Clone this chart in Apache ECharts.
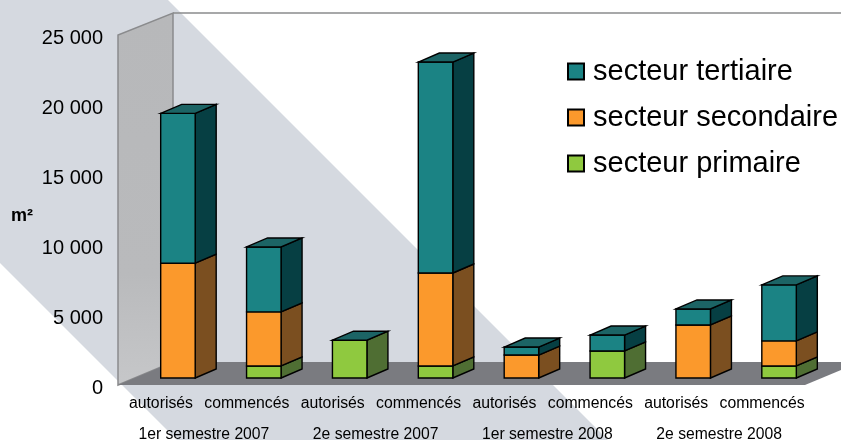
<!DOCTYPE html>
<html><head><meta charset="utf-8">
<style>html,body{margin:0;padding:0;background:#fff}#c{width:841px;height:440px}</style>
<script src="https://cdn.jsdelivr.net/npm/echarts@6/dist/echarts.min.js"></script>
</head><body><div id="c"></div>
<script>
var statuts = ['autorisés','commencés','autorisés','commencés','autorisés','commencés','autorisés','commencés'];
var semestres = ['1er semestre 2007','2e semestre 2007','1er semestre 2008','2e semestre 2008'];
var primaire   = [0, 860, 2700, 860, 0, 1930, 0, 860];
var secondaire = [8200, 3860, 0, 6640, 1640, 0, 3790, 1790];
var tertiaire  = [10700, 4640, 0, 15070, 570, 1140, 1140, 4000];
var yTicks = [0, 5000, 10000, 15000, 20000, 25000];

var stack = [primaire, secondaire, tertiaire];
var palette = [
  {front:'#8fc93f', side:'#4f6e33'},
  {front:'#fb992c', side:'#7b4f20'},
  {front:'#1b8384', side:'#063f43'}
];
var TOP_FILL = '#1c6465';
var names = ['secteur primaire','secteur secondaire','secteur tertiaire'];
var DX = 21, DY = -9, SHIFT_X = 17, SHIFT_Y = -7, BAR = 34.5;
var EDGE = {stroke:'#000', lineWidth:1.4, lineJoin:'miter'};

function makeRender(level){
  return function(params, api){
    var i = api.value(0), base = 0, k;
    for (k = 0; k < level; k++) base += stack[k][i];
    var val = stack[level][i];
    if (!val) return null;
    var isTop = true;
    for (k = level + 1; k < stack.length; k++) if (stack[k][i]) isTop = false;
    var p0 = api.coord([i, base]), p1 = api.coord([i, base + val]);
    var x0 = p0[0] + SHIFT_X - BAR/2, x1 = x0 + BAR;
    var yb = p0[1] + SHIFT_Y, yt = p1[1] + SHIFT_Y;
    var c = palette[level];
    var kids = [
      {type:'polygon', shape:{points:[[x1,yb],[x1+DX,yb+DY],[x1+DX,yt+DY],[x1,yt]]}, style:Object.assign({fill:c.side},EDGE)},
      {type:'rect', shape:{x:x0,y:yt,width:BAR,height:yb-yt}, style:Object.assign({fill:c.front},EDGE)}
    ];
    if (isTop) kids.push({type:'polygon', shape:{points:[[x0,yt],[x0+DX,yt+DY],[x1+DX,yt+DY],[x1,yt]]}, style:Object.assign({fill:TOP_FILL},EDGE)});
    return {type:'group', children:kids};
  };
}
var series = names.map(function(n, level){
  return {
    name:n, type:'custom', xAxisIndex:0, yAxisIndex:0, clip:false,
    renderItem:makeRender(level),
    itemStyle:{color:palette[level].front, borderColor:'#000', borderWidth:1.6},
    encode:{x:0,y:1},
    data:stack[level].map(function(v,i){
      var s = 0; for (var k=0;k<=level;k++) s += stack[k][i];
      return [i, s];
    }),
    silent:true, animation:false
  };
});
var chart = echarts.init(document.getElementById('c'), null, {renderer:'canvas'});
chart.setOption({
  animation:false,
  backgroundColor:'#fff',
  textStyle:{fontFamily:'"Liberation Sans", Arial, sans-serif'},
  grid:{left:118, top:35, width:687, height:350, containLabel:false, outerBoundsMode:'none'},
  legend:{
    orient:'vertical', left:567, top:57, padding:0, itemWidth:16, itemHeight:16, itemGap:17,
    icon:'rect', selectedMode:false,
    data:[names[2],names[1],names[0]],
    textStyle:{fontSize:29, color:'#000', fontFamily:'"Liberation Sans", Arial, sans-serif', padding:[0,0,0,4]}
  },
  xAxis:[
    {type:'category', position:'bottom', data:statuts,
     axisLine:{show:false}, axisTick:{show:false},
     axisLabel:{fontSize:15.8, color:'#000', margin:11, interval:0}},
    {type:'category', position:'bottom', offset:31, data:semestres,
     axisLine:{show:false}, axisTick:{show:false},
     axisLabel:{fontSize:15.7, color:'#000', margin:11, interval:0}}
  ],
  yAxis:{
    type:'value', min:0, max:25000, interval:5000,
    name:'m²', nameLocation:'middle', nameRotate:0, nameGap:85,
    nameTextStyle:{fontSize:18, fontWeight:'bold', color:'#000', verticalAlign:'top', lineHeight:12},
    axisLine:{show:false}, axisTick:{show:false}, splitLine:{show:false},
    axisLabel:{fontSize:20, color:'#000', margin:15, verticalAlign:'top', lineHeight:6, formatter:function(v){
      return String(yTicks[yTicks.indexOf(v)]).replace(/\B(?=(\d{3})+$)/g,' ');
    }}
  },
  graphic:[
    {type:'polygon', z:-10, silent:true, shape:{points:[[0,0],[168,0],[608,440],[177,440],[0,263]]}, style:{fill:'#d5d9e0'}},
    {type:'polygon', z:-9, silent:true, shape:{points:[[118,385],[118,35],[173,13],[173,362]]},
      style:{fill:new echarts.graphic.LinearGradient(0,0,0,1,[{offset:0,color:'#b7b8ba'},{offset:0.7,color:'#b9babc'},{offset:1,color:'#c6c7c9'}]), stroke:'#8a8b8d', lineWidth:1.5}},
    {type:'polyline', z:-9, silent:true, shape:{points:[[173,13],[841,13]]}, style:{stroke:'#8a8b8d', lineWidth:1.5, fill:null}},
    {type:'polygon', z:-8, silent:true, shape:{points:[[118,385],[805,385],[860,362],[173,362]]}, style:{fill:'#7a7b80'}}
  ],
  series:series
});
</script></body></html>
